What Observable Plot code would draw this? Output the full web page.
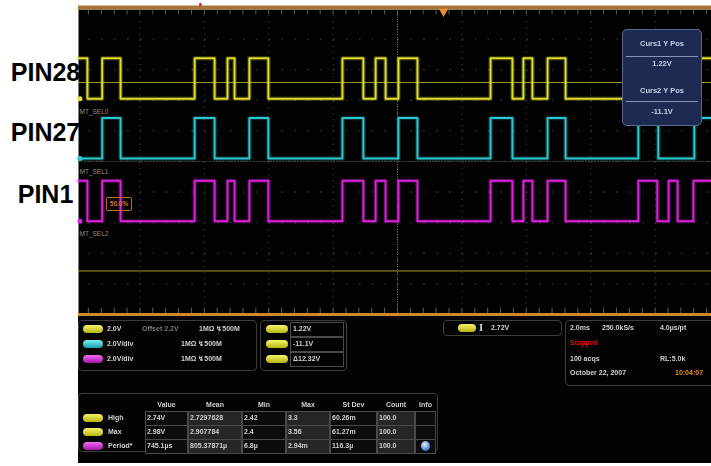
<!DOCTYPE html>
<html><head><meta charset="utf-8">
<script src="https://cdn.jsdelivr.net/npm/d3@7"></script>
<script src="https://cdn.jsdelivr.net/npm/@observablehq/plot@0.6"></script>
<style>
body{margin:0;background:#fff;font-family:"Liberation Sans",Arial,sans-serif;}
#wrap{position:relative;width:711px;height:466px;overflow:hidden;background:#fff;}
#chart{position:absolute;left:0;top:0;}
.a{position:absolute;box-sizing:border-box;}
.box{border:1.5px solid #3c3c3c;border-radius:4px;}
.t{position:absolute;font-size:7px;font-weight:bold;color:#d0d0d0;white-space:nowrap;line-height:10px;height:10px;filter:blur(0.3px);}
.pill{position:absolute;height:8px;border-radius:5px;}
.cell{position:absolute;border:1px solid #4a4a4a;box-sizing:border-box;}
</style>
</head><body>
<div id="wrap"><div id="chart"></div></div>
<script>
// ---------- data ----------
const channels = ["PIN28", "PIN27", "PIN1"];
const channelTags = ["MT_SEL0", "MT_SEL1", "MT_SEL2"];
const channelColors = ["#e0e02c", "#2cc8d2", "#dc22dc"];
const channelOffsetV = [0, -3.9, -8.0];       // ground level of each trace (V, 2 V/div)
const logicLowV = 0.15;
const logicHighV = 2.8;

// time of each level change (ms, trigger at 0) and the level that starts there
const pin28EdgesMs = [-9.91,-9.63,-9.17,-8.60,-6.30,-5.68,-5.28,-5.06,-4.60,-4.01,-1.71,-1.06,-0.68,-0.37,0.03,0.62,2.89,3.57,3.91,4.19,4.66,5.22,7.48,8.07,8.42,8.70,9.19,9.75];
const pin28States  = [1,0,1,0,1,0,1,0,1,0,1,0,1,0,1,0,1,0,1,0,1,0,1,0,1,0,1,1];
const pin27EdgesMs = [-9.91,-9.17,-8.60,-6.30,-5.68,-4.60,-4.01,-1.71,-1.06,0.03,0.62,2.89,3.57,4.66,5.22,7.48,8.10,9.22,9.75];
const pin27States  = [0,1,0,1,0,1,0,1,0,1,0,1,0,1,0,1,0,1,1];
const pin1EdgesMs  = [-9.91,-9.63,-9.17,-8.60,-6.30,-5.68,-5.28,-5.06,-4.60,-4.01,-1.71,-1.06,-0.68,-0.37,0.03,0.62,2.89,3.57,3.91,4.19,4.66,5.22,7.48,8.07,8.42,8.70,9.19,9.75];
const pin1States   = [1,0,1,0,1,0,1,0,1,0,1,0,1,0,1,0,1,0,1,0,1,0,1,0,1,0,1,1];

const cursorNames = ["Curs1 Y Pos", "Curs2 Y Pos"];
const cursorV = [1.22, -11.1];
const cursorTexts = ["1.22V", "-11.1V", "Δ12.32V"];
const triggerMs = [1.43];
const triggerLevelText = "50.0%";

const scaleRows = [
  ["2.0V", "Offset 2.2V", "1MΩ ↯500M"],
  ["2.0V/div", "", "1MΩ ↯500M"],
  ["2.0V/div", "", "1MΩ ↯500M"]
];
const cursorReadout = "2.72V";
const acqRows = [
  ["2.0ms", "250.0kS/s", "4.0µs/pt"],
  ["Stopped", "", ""],
  ["100 acqs", "", "RL:5.0k"],
  ["October 22, 2007", "", "10:04:07"]
];
const measHeaders = ["Value", "Mean", "Min", "Max", "St Dev", "Count", "Info"];
const measNames = ["High", "Max", "Period*"];
const measChannel = [0, 0, 2];
const measValues = [
  ["2.74V", "2.7297628", "2.42", "3.3", "60.26m", "100.0"],
  ["2.98V", "2.907784", "2.4", "3.56", "61.27m", "100.0"],
  ["745.1µs", "805.37871µ", "6.8µ", "2.94m", "116.3µ", "100.0"]
];

// ---------- chart ----------
const xDomain = [-9.907, 9.752];   // ms, 2 ms/div
const yDomain = [-13.88, 5.99];    // V, 2 V/div
const traceEdges = [pin28EdgesMs, pin27EdgesMs, pin1EdgesMs];
const traceStates = [pin28States, pin27States, pin1States];
const rows = channels.flatMap((ch, i) => traceEdges[i].map((t, j) => ({
  ch, t, v: channelOffsetV[i] + (traceStates[i][j] ? logicHighV : logicLowV), color: channelColors[i]
})));
const idx = channels.map((_, i) => i);
const gridMs = d3.range(-8, 8.01, 2);
const gridV = d3.range(4.06, -13, -2);
const minorMs = d3.range(-9.6, 9.75, 0.4);

const plot = Plot.plot({
  width: 711, height: 316,
  marginLeft: 78, marginRight: 0, marginTop: 9, marginBottom: 3,
  x: {domain: xDomain, axis: null},
  y: {domain: yDomain, axis: null},
  color: {type: "identity"},
  style: {background: "#fff", fontFamily: "Liberation Sans, Arial, sans-serif", overflow: "visible"},
  marks: [
    Plot.frame({fill: "#020202", stroke: null}),
    Plot.ruleX(gridMs, {stroke: "#4e4e4e", strokeDasharray: "1,5.12"}),
    Plot.ruleY(gridV, {stroke: "#464646", strokeDasharray: "1.5,11.38", strokeDashoffset: 2.5}),
    Plot.ruleX([0], {stroke: "#7a7a7a", strokeDasharray: "1,1.5"}),
    Plot.ruleY([gridV[4]], {stroke: "#4a4438", strokeDasharray: "2,1"}),
    Plot.ruleX(minorMs, {y1: yDomain[1], y2: yDomain[1] - 0.35, stroke: "#5a5a5a"}),
    Plot.ruleX(minorMs, {y1: yDomain[0], y2: yDomain[0] + 0.35, stroke: "#5a5a5a"}),
    Plot.ruleY(cursorV, {stroke: "#9a9a26", strokeWidth: 1}),
    Plot.line(rows, {x: "t", y: "v", z: "ch", stroke: "color", curve: "step-after", strokeWidth: 4.5, strokeOpacity: 0.22}),
    Plot.line(rows, {x: "t", y: "v", z: "ch", stroke: "color", curve: "step-after", strokeWidth: 2}),
    Plot.dot(idx, {x: () => xDomain[0], y: i => channelOffsetV[i] + logicLowV, fill: i => channelColors[i], r: 2.5, dx: 1.5}),
    Plot.text(idx, {x: () => xDomain[0], y: i => channelOffsetV[i] - 0.7, text: i => channelTags[i], fill: "#8c8c8c", fontSize: 6.5, textAnchor: "start", dx: 1}),
    Plot.text(idx, {x: () => xDomain[0], y: i => channelOffsetV[i] + 1.85, text: i => channels[i], fill: "#000", fontSize: 25, fontWeight: "bold", textAnchor: "middle", dx: -33}),
    Plot.ruleY([yDomain[1]], {stroke: "#a97636", strokeWidth: 4, dy: -2}),
    Plot.ruleY([yDomain[0]], {stroke: "#d08a2e", strokeWidth: 3, dy: 1}),
    Plot.dot(triggerMs, {x: d => d, y: () => yDomain[1], symbol: "triangle", rotate: 180, r: 3.5, fill: "#e8902a", dy: 2}),
    Plot.dot([-6.12], {x: d => d, y: () => yDomain[1], symbol: "square", r: 1.4, fill: "#e00000", dy: -5})
  ]
});
document.getElementById("chart").appendChild(plot);

// ---------- overlays (cursor popup, trigger level tag, readout panels) ----------
const wrap = document.getElementById("wrap");
function el(cls, css, text) {
  const d = document.createElement("div");
  d.className = cls; d.style.cssText = css;
  if (text != null) d.textContent = text;
  wrap.appendChild(d); return d;
}
function txt(x, yc, s, color, extra) {
  return el("t", `left:${x}px;top:${yc - 5}px;${color ? "color:" + color + ";" : ""}${extra || ""}`, s);
}
const pillGrad = [
  "linear-gradient(#f4f46a,#b8b414)",
  "linear-gradient(#7af0f4,#1aa0b0)",
  "linear-gradient(#f46af4,#a414a8)"
];
function pill(x, yc, w, ch) {
  el("pill", `left:${x}px;top:${yc - 4}px;width:${w}px;background:${pillGrad[ch]};`);
}

// trigger level tag
el("a", "left:106px;top:197px;width:26px;height:14px;border:1px solid #b8702a;border-radius:2px;color:#c8782a;font-size:6.5px;font-weight:bold;line-height:12px;text-align:center;", triggerLevelText);

// cursor popup
const pop = el("a", "left:622px;top:29px;width:80px;height:97px;background:#1d2a52;border:1px solid #5a6890;border-radius:5px;");
[[14, cursorNames[0]], [34, cursorTexts[0]], [61, cursorNames[1]], [82, cursorTexts[1]]].forEach(([y, s]) => {
  const d = document.createElement("div");
  d.style.cssText = `position:absolute;left:0;width:78px;top:${y - 5}px;height:10px;line-height:10px;text-align:center;font-size:7.5px;font-weight:bold;color:#c6d0e8;filter:blur(0.3px);`;
  d.textContent = s; pop.appendChild(d);
});
[26, 71].forEach(y => {
  const d = document.createElement("div");
  d.style.cssText = `position:absolute;left:3px;width:72px;top:${y}px;height:1px;background:#8894b8;`;
  pop.appendChild(d);
});

// panel background
el("a", "left:78px;top:316px;width:633px;height:147px;background:#030303;");

// box 1: channel scales
el("a box", "left:78px;top:320px;width:179px;height:51px;");
const scaleY = [329, 344, 359];
scaleRows.forEach((r, i) => {
  pill(83, scaleY[i], 20, i);
  txt(107, scaleY[i], r[0]);
  if (r[1]) txt(142, scaleY[i], r[1], "#7a7a7a");
  txt(i === 0 ? 199 : 181, scaleY[i], r[2]);
});

// box 2: cursor values
el("a box", "left:260px;top:320px;width:87px;height:51px;");
cursorTexts.forEach((s, i) => {
  pill(266, scaleY[i], 22, 0);
  el("cell", `left:290px;top:${scaleY[i] - 7}px;width:54px;height:15px;`);
  txt(293, scaleY[i], s);
});

// box 3: cursor readout
el("a box", "left:443px;top:320px;width:119px;height:16px;");
pill(458, 328, 18, 0);
txt(479, 328, "I", null, "font-family:'DejaVu Serif',serif;font-size:9px;");
txt(491, 328, cursorReadout);

// box 4: acquisition
el("a box", "left:565px;top:320px;width:152px;height:66px;");
const acqY = [328, 343, 359, 373];
acqRows.forEach((r, i) => {
  txt(570, acqY[i], r[0], i === 1 ? "#e01010" : null);
  if (r[1]) txt(602, acqY[i], r[1]);
  if (r[2]) txt(i === 3 ? 675 : 660, acqY[i], r[2], i === 3 ? "#e8901e" : null);
});

// box 5: measurement table
el("a box", "left:78px;top:393px;width:360px;height:59px;");
const colEdges = [145, 188, 242, 286, 330, 377, 415, 436];
measHeaders.forEach((h, c) => {
  const x0 = colEdges[c], x1 = colEdges[c + 1];
  el("t", `left:${x0}px;top:400px;width:${x1 - x0}px;text-align:center;`, h);
});
const rowY = [418, 432, 446];
measNames.forEach((n, r) => {
  pill(83, rowY[r], 20, measChannel[r]);
  txt(108, rowY[r], n);
  for (let c = 0; c < 7; c++) {
    const x0 = colEdges[c], x1 = colEdges[c + 1];
    el("cell", `left:${x0}px;top:${rowY[r] - 7}px;width:${x1 - x0}px;height:15px;background:${c % 2 ? "#262626" : "#0c0c0c"};`);
    if (c < 6) txt(x0 + 2, rowY[r], measValues[r][c]);
  }
});
el("a", "left:421px;top:441px;width:9px;height:10px;border-radius:50%;background:radial-gradient(circle at 40% 35%,#e8f0ff,#5a88d8 60%,#2a4a98);");
</script>
</body></html>
